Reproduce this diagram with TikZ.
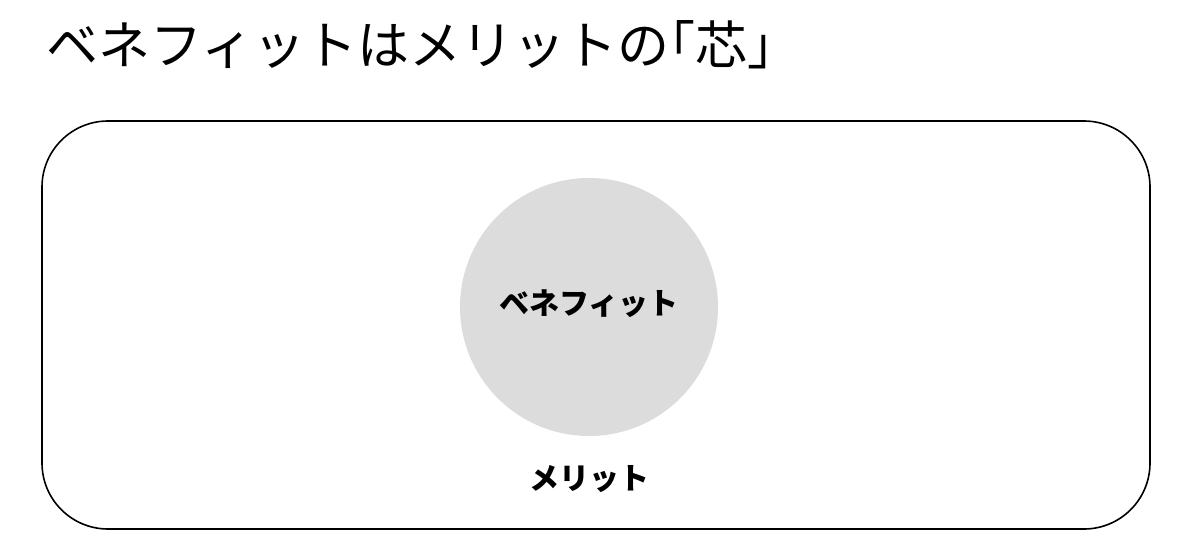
\documentclass[tikz,border=0pt]{standalone}
\usepackage{fontspec}
\usepackage{tikz}
\newfontfamily\jpfont{Noto Sans CJK JP}
\newfontfamily\jphalt[RawFeature=+halt]{Noto Sans CJK JP}
\definecolor{coregray}{HTML}{DCDCDC}

\begin{document}
\begin{tikzpicture}[x=1pt, y=-1pt,
    title/.style={anchor=west, inner sep=0pt, font=\jphalt\fontsize{52}{60}\selectfont},
    label/.style={inner sep=0pt, font=\jpfont\bfseries\fontsize{30}{36}\selectfont}
]
                \useasboundingbox (0, 0) rectangle (1200, 557);

                \node[title] (head) at (46, 45) {ベネフィットはメリットの「芯」};

                \draw[line width=1.6pt, rounded corners=66pt] (42, 121) rectangle (1150, 529);
                \fill[coregray] (589, 307) circle (129);

                \node[label] (benefit) at (589, 304) {ベネフィット};
                \node[label] (merit) at (589, 479) {メリット};
            \end{tikzpicture}
\end{document}
